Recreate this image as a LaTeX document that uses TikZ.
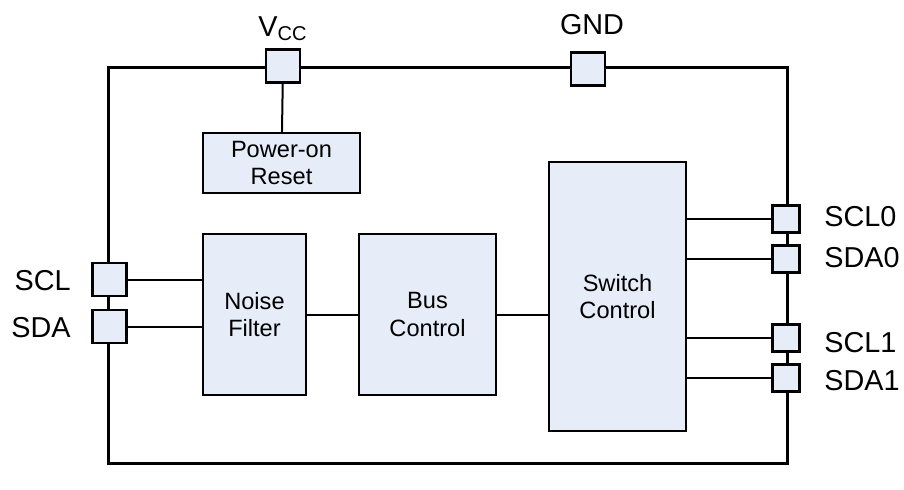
\documentclass[tikz,border=0pt]{standalone}
\usepackage{fontspec}
\setmainfont{Liberation Sans}
\usepackage{xcolor}
\definecolor{blockfill}{RGB}{230,237,248}
\usetikzlibrary{positioning}

\begin{document}
\begin{tikzpicture}[x=0.5pt, y=-0.5pt,
  frame/.style={line width=1.5pt},
  wire/.style={line width=1pt},
  block/.style={draw, line width=1.2pt, fill=blockfill, inner sep=0pt, align=center, font=\fontsize{11.8}{13.8}\selectfont},
  pinbox/.style={draw, line width=1.2pt, fill=blockfill, inner sep=0pt, minimum width=17pt, minimum height=16.5pt},
  smallpin/.style={pinbox, minimum width=13.5pt, minimum height=13.5pt},
  pinlabel/.style={inner sep=0pt, font=\fontsize{14.4}{16}\selectfont}]
\useasboundingbox (0,0) rectangle (904,489);
% package outline
\draw[frame] (108,67) rectangle (787,463);
% pins
\node[pinbox] (vcc) at (283,66) {};
\node[pinbox] (gnd) at (588,69) {};
\node[pinbox] (scl) at (109.5,279.5) {};
\node[pinbox] (sda) at (109.5,326.5) {};
\node[smallpin] (scl0) at (786,219) {};
\node[smallpin] (sda0) at (786,259) {};
\node[smallpin] (scl1) at (786,338) {};
\node[smallpin] (sda1) at (786,378) {};
% pin labels
\node[pinlabel] (vcclabel) at (283,29) {V\textsubscript{CC}};
\node[pinlabel] (gndlabel) at (592,25) {GND};
\node[pinlabel, anchor=east] (scllabel) at (71,281) {SCL};
\node[pinlabel, anchor=east] (sdalabel) at (71,328) {SDA};
\node[pinlabel, anchor=west] (scl0label) at (824,217) {SCL0};
\node[pinlabel, anchor=west] (sda0label) at (824,258) {SDA0};
\node[pinlabel, anchor=west] (scl1label) at (824,343) {SCL1};
\node[pinlabel, anchor=west] (sda1label) at (824,381) {SDA1};
% blocks
\node[block, minimum width=78.5pt, minimum height=30pt] (por) at (281.5,163) {Power-on\\Reset};
\node[block, minimum width=51.5pt, minimum height=80.5pt] (nf) at (254.5,314.5) {Noise\\Filter};
\node[block, minimum width=68.5pt, minimum height=80.5pt] (bc) at (427.5,314.5) {Bus\\Control};
\node[block, minimum width=68.5pt, minimum height=134.5pt] (sw) at (617.5,296.5) {Switch\\Control};
% connections
\draw[wire] (vcc) -- (por);
\draw[wire] (scl) -- (scl -| nf.west);
\draw[wire] (sda) -- (sda -| nf.west);
\draw[wire] (nf) -- (bc);
\draw[wire] (bc) -- (bc -| sw.west);
\foreach \p in {scl0,sda0,scl1,sda1} \draw[wire] (\p -| sw.east) -- (\p);
\end{tikzpicture}
\end{document}
